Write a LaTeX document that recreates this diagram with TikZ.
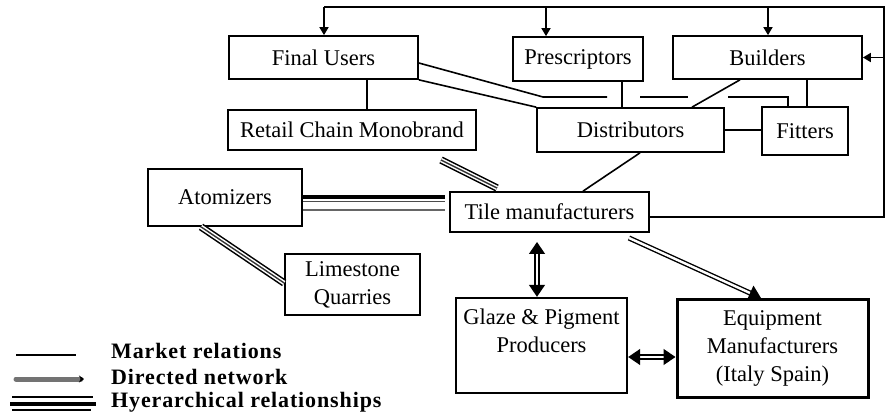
\documentclass[tikz,border=0pt]{standalone}
\usepackage{fontspec}
\setmainfont{Liberation Serif}
\newfontfamily\legfont[LetterSpace=4]{Liberation Serif}
\usetikzlibrary{arrows.meta,calc}
\begin{document}
\begin{tikzpicture}[x=1pt,y=-1pt,
  box/.style={draw, line width=1.7pt, inner sep=0pt, font=\fontsize{22.5}{28}\selectfont, align=center},
  txt/.style={inner sep=0pt, font=\fontsize{22.5}{28}\selectfont, align=center},
  legtxt/.style={inner sep=0pt, anchor=west, font=\legfont\bfseries\fontsize{22}{28}\selectfont},
  mkt/.style={line width=1.6pt},
  hier/.style={line width=7.5pt, draw=black, postaction={draw=white, line width=4.4pt}, postaction={draw=black!80, line width=1.4pt}},
  dirn/.style={draw=black, line width=1.4pt, double=white, double distance=2.4pt},
  tipend/.style={-{Triangle[length=12pt,width=16pt]}},
  tipboth/.style={{Triangle[length=12pt,width=16pt]}-{Triangle[length=12pt,width=16pt]}},
  small/.style={-{Triangle[length=8pt,width=9pt]}, line width=1.6pt}
]
\useasboundingbox (0,0) rectangle (885,419);
\fill[white] (0,0) rectangle (885,419);

% boxes
\node[box, minimum width=189pt, minimum height=43pt] (FU) at (323.5,57.5) {Final Users};
\node[box, minimum width=130pt, minimum height=44pt] (PR) at (578,59) {Prescriptors};
\node[box, minimum width=189pt, minimum height=43pt] (BU) at (767.5,57.5) {Builders};
\node[box, minimum width=248pt, minimum height=40pt] (RC) at (352,130) {Retail Chain Monobrand};
\node[box, minimum width=187pt, minimum height=44pt] (DI) at (630.5,130) {Distributors};
\node[box, minimum width=86pt, minimum height=48pt] (FI) at (805,131) {Fitters};
\node[box, minimum width=154pt, minimum height=57pt] (AT) at (225,197.5) {Atomizers};
\node[box, minimum width=199pt, minimum height=40pt] (TM) at (549.5,212) {Tile manufacturers};
\node[box, minimum width=135pt, minimum height=61pt] (LQ) at (352.5,284.5) {Limestone\\Quarries};
\node[box, line width=2.4pt, minimum width=171pt, minimum height=95pt] (GP) at (541.5,345.5) {};
\node[txt] (GPt) at (541.5,331) {Glaze \& Pigment\\Producers};
\node[box, line width=3pt, minimum width=191pt, minimum height=98pt] (EM) at (772.5,348) {Equipment\\Manufacturers\\(Italy Spain)};

% top frame with arrows
\coordinate (TL) at (324,7);
\coordinate (TR) at (884,7);
\coordinate (BR) at (884,217);
\coordinate (RB) at (884,57.5);
\draw[mkt] (TL) -- (TR) -- (BR) -- (BR -| TM.east);
\draw[small] (TL) -- (FU.north -| TL);
\draw[small] (546,7) -- (PR.north -| 546,0);
\draw[small] (768,7) -- (BU.north -| 768,0);
\draw[small] (RB) -- (BU.east);

% market relations
\draw[mkt] (FU.south -| 367,0) -- (RC.north -| 367,0);
\coordinate (m1) at (543,97);
\coordinate (m2) at (607,97);
\coordinate (m3) at (640,97);
\coordinate (m4) at (688,97);
\coordinate (m5) at (728,97);
\coordinate (m6) at (788,97);
\draw[mkt] (FU.east |- 0,63) -- (m1) -- (m2);
\draw[mkt] (m3) -- (m4);
\draw[mkt] (m5) -- (m6) -- (FI.north -| m6);
\draw[mkt] (FU.south east) -- (DI.north west);
\draw[mkt] (PR.south -| 622,0) -- (DI.north -| 622,0);
\draw[mkt] (BU.south -| 740,0) -- (DI.north -| 692,0);
\draw[mkt] (BU.south -| 807,0) -- (FI.north -| 807,0);
\draw[mkt] (DI.east) -- (DI.east -| FI.west);
\draw[mkt] (DI.south -| 640,0) -- (TM.north -| 583,0);

% hierarchical relationships
\coordinate (h1) at (441,160);
\coordinate (h2) at (497,188);
\draw[hier] (h1) -- (h2);
\draw[line width=4.2pt] (AT.east |- 0,197) -- (445,197);
\draw[line width=1.2pt, black!70] (AT.east |- 0,201.5) -- (445,201.5);
\draw[line width=1.5pt, black!60] (AT.east |- 0,210) -- (445,210);
\draw[hier] (AT.south -| 201,0) -- (LQ.west |- 0,283);

% directed network
\coordinate (d1) at (537,242);
\draw[dirn, tipboth] (d1) -- (GP.north -| d1);
\coordinate (d2) at (629,238);
\coordinate (d3) at (761,298);
\draw[dirn, tipend] (d2) -- (d3);
\draw[dirn, tipboth] (GP.east |- 0,357) -- (EM.west |- 0,357);

% legend
\coordinate (l1a) at (16,355);
\coordinate (l1b) at (76,355);
\draw[line width=1.5pt] (l1a) -- (l1b);
\coordinate (l2a) at (16,379);
\coordinate (l2b) at (84,379);
\draw[line width=5pt, draw=black!55, line cap=round, -{Stealth[black,length=5pt,width=7pt]}] (l2a) -- (l2b);
\coordinate (l3a) at (12,397);
\coordinate (l3b) at (93,397);
\coordinate (l3c) at (10,403.5);
\coordinate (l3d) at (96,403.5);
\coordinate (l3e) at (12,410);
\coordinate (l3f) at (91,410);
\draw[line width=1.5pt] (l3a) -- (l3b);
\draw[line width=4pt] (l3c) -- (l3d);
\draw[line width=1.5pt] (l3e) -- (l3f);
\node[legtxt] (lt1) at (111,351) {Market relations};
\node[legtxt] (lt2) at (111,377) {Directed network};
\node[legtxt] (lt3) at (111,402) {Hyerarchical relationships};
\end{tikzpicture}
\end{document}
